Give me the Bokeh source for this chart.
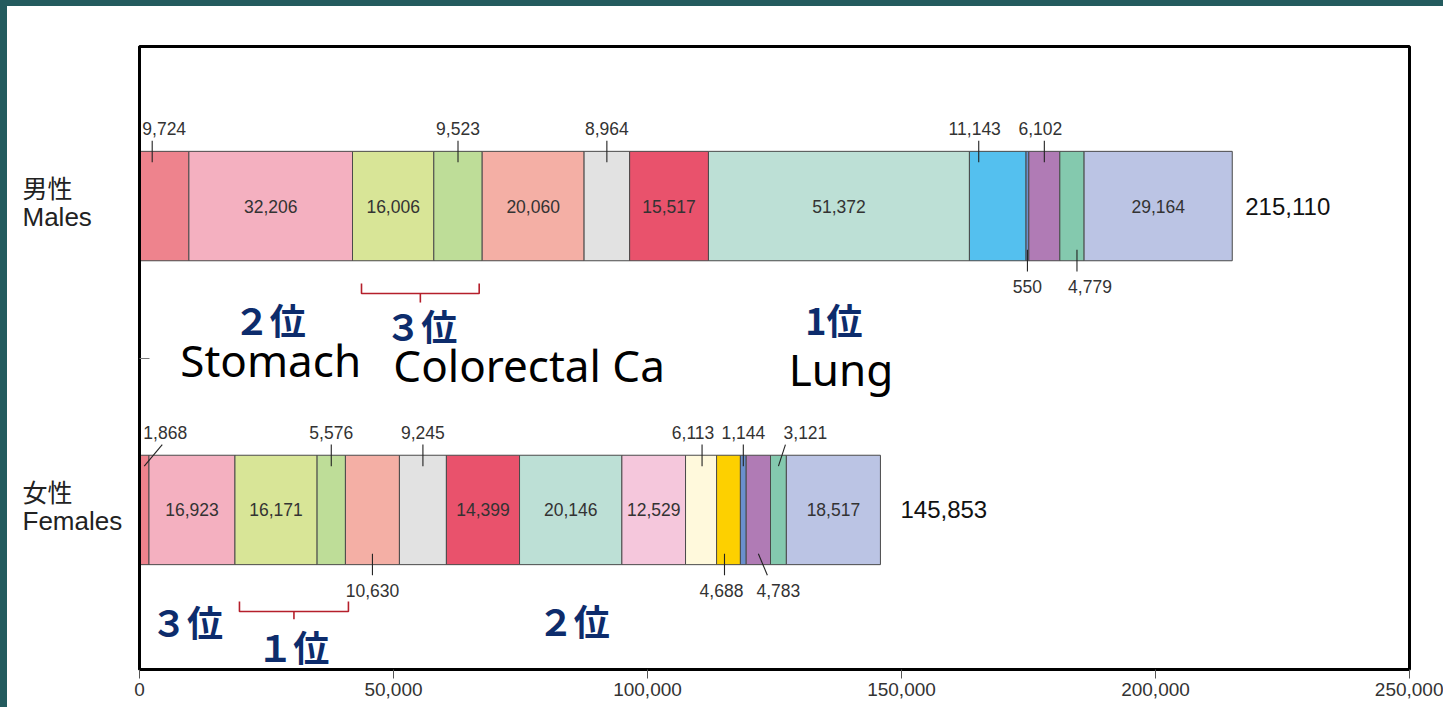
import numpy as np
from bokeh.plotting import figure
from bokeh.layouts import row
from bokeh.models import (Range1d, FixedTicker, NumeralTickFormatter,
                          ColumnDataSource, InlineStyleSheet)
from bokeh.core.properties import value
from bokeh.embed import file_html
from bokeh.resources import INLINE

# ---------------- data ----------------
group_jp = ["男性", "女性"]
group_en = ["Males", "Females"]
male_values = [9724, 32206, 16006, 9523, 20060, 8964, 15517, 51372, 11143, 550, 6102, 4779, 29164]
male_colors = ["#ee838d", "#f4b0c0", "#d8e597", "#bedd98", "#f4afa5", "#e2e2e2", "#e9526c",
               "#bde0d6", "#54c0ef", "#6a8fcd", "#b07bb5", "#84c9ae", "#bbc4e4"]
female_values = [1868, 16923, 16171, 5576, 10630, 9245, 14399, 20146, 12529, 6113, 4688, 1144,
                 4783, 3121, 18517]
female_colors = ["#ee838d", "#f4b0c0", "#d8e597", "#bedd98", "#f4afa5", "#e2e2e2", "#e9526c",
                 "#bde0d6", "#f5c7dc", "#fff9dc", "#fdd000", "#6a8fcd", "#b07bb5", "#84c9ae",
                 "#bbc4e4"]
totals = [215110, 145853]
x_ticks = [0, 50000, 100000, 150000, 200000, 250000]

# ranking annotations: (text, segment indices)
male_ranks = [("２位", [1]), ("３位", [2, 3]), ("1位", [7])]
female_ranks = [("３位", [1]), ("１位", [2, 3]), ("２位", [7])]
organ_names = [("Stomach", [1]), ("Colorectal Ca", [2, 3]), ("Lung", [7])]

# ---------------- styling / placement ----------------
male_label_pos = ["up", "in", "in", "up", "in", "up", "in", "in", "up", "down", "up", "down", "in"]
female_label_pos = ["up", "in", "in", "up", "down", "up", "in", "in", "in", "up", "down", "up",
                    "down", "up", "in"]
# pixel tweaks: index -> (text dx, leader dx inside bar, leader dx outside bar)
male_tweaks = {0: (0, -12, -12), 8: (-23, -19, -19), 10: (-4, 0, 0), 11: (18, 5, 5)}
female_tweaks = {0: (21, 0, 18), 9: (-8, 1, 1), 10: (-7, -4, -4), 12: (20, 0, 9), 13: (27, 0, 7)}

X_MAX = 250000
FRAME_W = 1270
PX = X_MAX / FRAME_W          # data units per pixel (x)
BAR_H = 0.72
Y_POS = [2, 0]
TEAL = "#235b5e"
LEFT_W = 131

y_range = Range1d(-1.05, 3.05)

# ---- left panel holding the group labels ----
lp = figure(width=LEFT_W, height=707, output_backend="svg", toolbar_location=None,
            x_range=Range1d(0, LEFT_W), y_range=y_range,
            x_axis_location=None, y_axis_location=None,
            min_border_left=0, min_border_right=0, min_border_top=46, min_border_bottom=38)
lp.outline_line_color = None
lp.xgrid.grid_line_color = None
lp.ygrid.grid_line_color = None
lp.border_fill_alpha = 0
lp.background_fill_alpha = 0
lp.text(x=[22] * 2, y=[y + 0.125 for y in Y_POS], text=group_jp, text_align="left",
        text_baseline="middle", text_font=value("Noto Sans CJK JP"),
        text_font_size="25px", text_color="#222222")
lp.text(x=[22] * 2, y=[y - 0.07 for y in Y_POS], text=group_en, text_align="left",
        text_baseline="middle", text_font=value("Liberation Sans"),
        text_font_size="26px", text_color="#222222")
lp.stylesheets = [InlineStyleSheet(css=f":host {{ box-shadow: inset 7px 6px 0 0 {TEAL}; }}")]

# ---- main chart ----
p = figure(width=1443 - LEFT_W, height=707, output_backend="svg", toolbar_location=None,
           x_range=Range1d(0, X_MAX), y_range=y_range,
           min_border_left=8, min_border_right=34, min_border_top=46, min_border_bottom=38)
p.background_fill_color = "white"
p.border_fill_alpha = 0
p.outline_line_color = "black"
p.outline_line_width = 3
p.xgrid.grid_line_color = None
p.ygrid.grid_line_color = None

p.xaxis.ticker = FixedTicker(ticks=x_ticks)
p.xaxis.formatter = NumeralTickFormatter(format="0,0")
p.xaxis.axis_line_color = "black"
p.xaxis.axis_line_width = 3
p.xaxis.major_tick_out = 9
p.xaxis.major_tick_in = 0
p.xaxis.major_tick_line_color = "#555555"
p.xaxis.minor_tick_line_color = None
p.xaxis.major_label_standoff = 4
p.xaxis.major_label_text_font = "Liberation Sans"
p.xaxis.major_label_text_font_size = "19px"
p.xaxis.major_label_text_color = "#333333"

p.yaxis.ticker = FixedTicker(ticks=[1])
p.yaxis.major_label_overrides = {1: " "}
p.yaxis.major_label_text_font_size = "1px"
p.yaxis.major_label_standoff = 0
p.yaxis.axis_line_color = "black"
p.yaxis.axis_line_width = 3
p.yaxis.major_tick_in = 10
p.yaxis.major_tick_out = 0
p.yaxis.major_tick_line_color = "#777777"
p.yaxis.minor_tick_line_color = None

in_x, in_y, in_t = [], [], []
out_x, out_y, out_t = [], [], []
lx0, ly0, lx1, ly1 = [], [], [], []
spans = []

for values, colors, ypos, pos, tweaks in [
        (male_values, male_colors, Y_POS[0], male_label_pos, male_tweaks),
        (female_values, female_colors, Y_POS[1], female_label_pos, female_tweaks)]:
    vals = np.array(values, dtype=float)
    right = np.cumsum(vals)
    left = right - vals
    center = (left + right) / 2
    spans.append((left, right))
    src = ColumnDataSource(dict(left=left, right=right, y=[ypos] * len(vals), color=colors))
    p.hbar(y="y", left="left", right="right", height=BAR_H, fill_color="color",
           line_color="#4a4a4a", line_width=1, source=src)
    top = ypos + BAR_H / 2
    bot = ypos - BAR_H / 2
    for i, v in enumerate(values):
        lab = f"{v:,}"
        side = pos[i]
        if side == "in":
            in_x.append(center[i]); in_y.append(ypos); in_t.append(lab)
            continue
        tdx, ldi, ldo = tweaks.get(i, (0, 0, 0))
        sgn = 1 if side == "up" else -1
        edge = top if side == "up" else bot
        text_off = 0.148 if side == "up" else 0.17
        out_x.append(center[i] + tdx * PX)
        out_y.append(edge + sgn * text_off)
        out_t.append(lab)
        lx0.append(center[i] + ldi * PX); ly0.append(edge - sgn * 0.072)
        lx1.append(center[i] + ldo * PX); ly1.append(edge + sgn * 0.07)

p.segment(x0=lx0, y0=ly0, x1=lx1, y1=ly1, line_color="#222222", line_width=1.1)
p.text(x=in_x, y=in_y, text=in_t, text_align="center", text_baseline="middle",
       text_font=value("Liberation Sans"), text_font_size="17.5px", text_color="#333333")
p.text(x=out_x, y=out_y, text=out_t, text_align="center", text_baseline="middle",
       text_font=value("Liberation Sans"), text_font_size="17.5px", text_color="#333333")

# totals
tot_off = [13, 20]
p.text(x=[t + o * PX for t, o in zip(totals, tot_off)], y=Y_POS,
       text=[f"{t:,}" for t in totals], text_align="left", text_baseline="middle",
       text_font=value("Liberation Sans"), text_font_size="24px", text_color="#111111")

# ranking annotations
def seg_center(side, idxs):
    left, right = spans[side]
    return (left[idxs[0]] + right[idxs[-1]]) / 2

NAVY = "#0d2c6c"
rank_dx_m = [-1, 4, -5]
rank_y_m = [1.255, 1.22, 1.255]
rank_dx_f = [-5, 3, 3]
rank_y_f = [-0.73, -0.895, -0.725]
rx, ry, rt = [], [], []
for (t, idx), dx, yy in zip(male_ranks, rank_dx_m, rank_y_m):
    rx.append(seg_center(0, idx) + dx * PX); ry.append(yy); rt.append(t)
for (t, idx), dx, yy in zip(female_ranks, rank_dx_f, rank_y_f):
    rx.append(seg_center(1, idx) + dx * PX); ry.append(yy); rt.append(t)
p.text(x=rx, y=ry, text=rt, text_align="center", text_baseline="middle",
       text_font=value("Noto Sans CJK JP"), text_font_style="bold",
       text_font_size="36px", text_color=NAVY)

organ_dx = [0, -24, 2]
organ_align = ["center", "left", "center"]
organ_y = [0.985, 0.955, 0.925]
for (t, idx), dx, al, yy in zip(organ_names, organ_dx, organ_align, organ_y):
    p.text(x=[seg_center(0, idx) + dx * PX], y=[yy], text=[t], text_align=al,
           text_baseline="middle", text_font=value("Noto Sans"),
           text_font_size="44px", text_color="black")

# brackets under colorectal segments
RED = "#b51f2b"
bxs, bys = [], []
for side, (a_px, b_px), (y_end, y_h, y_tick) in [
        (0, (9, -3), (1.49, 1.424, 1.365)),
        (1, (4.5, 3), (-0.603, -0.668, -0.72))]:
    left, right = spans[side]
    x0 = left[2] + a_px * PX
    x1 = right[3] + b_px * PX
    xc = (x0 + x1) / 2
    bxs.append([x0, x0, x1, x1]); bys.append([y_end, y_h, y_h, y_end])
    bxs.append([xc, xc]); bys.append([y_h, y_tick])
p.multi_line(xs=bxs, ys=bys, line_color=RED, line_width=1.6)

# slide frame (dark teal strip along the top edge)
p.stylesheets = [InlineStyleSheet(css=f":host {{ box-shadow: inset 0 6px 0 0 {TEAL}; }}")]

layout = row(lp, p, spacing=0)
open("out.html", "w").write(file_html(layout, INLINE))
